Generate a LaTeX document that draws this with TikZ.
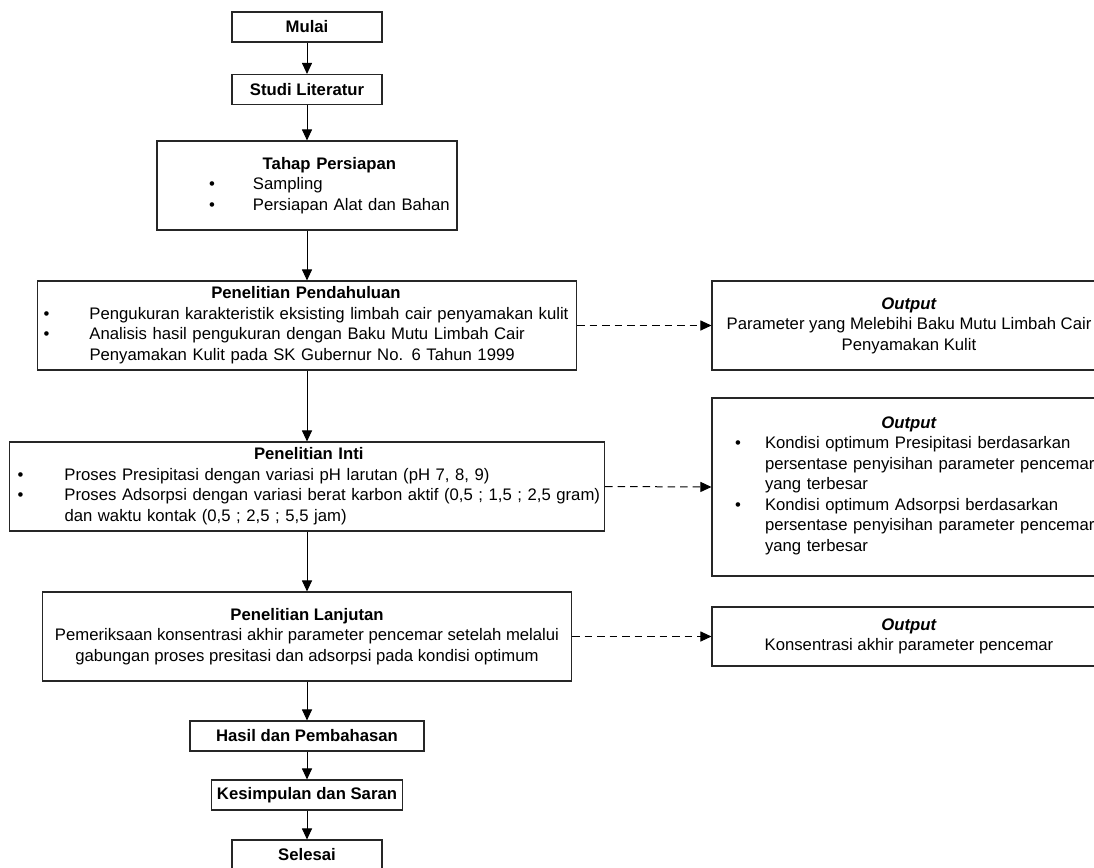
\documentclass[tikz,border=0pt]{standalone}
\usepackage{fontspec}
\setmainfont{Liberation Sans}
\usetikzlibrary{arrows.meta}
\begin{document}
\begin{tikzpicture}[x=1pt, y=-1pt,
    kotak/.style={draw=black!85, line width=1.1pt, rectangle, inner sep=0pt,
      minimum height=30pt, font=\fontsize{16.7}{20.5}\selectfont},
    isi/.style={kotak, align=left},
    panah/.style={-{Triangle[length=11pt,width=10pt]}, line width=1pt},
    putus/.style={panah, dash pattern=on 7.5pt off 5pt}]
  \useasboundingbox (0,0) rectangle (1094,867);

  \node[kotak, minimum width=150pt] (mulai) at (307,27) {\textbf{Mulai}};
  \node[kotak, minimum width=150pt] (studi) at (307,89.5) {\textbf{Studi Literatur}};
  \node[isi, text width=300pt, minimum height=89pt] (persiapan) at (307,185.5)
    {\hspace*{52pt}\begin{tabular}{@{}p{44pt}@{}l@{}}
      \multicolumn{2}{c}{\textbf{Tahap Persiapan}}\\
      \textbullet & Sampling\\
      \textbullet & Persiapan Alat dan Bahan
    \end{tabular}};
  \node[isi, text width=539pt, minimum height=89pt] (pendahuluan) at (307,325.5)
    {\hspace*{6pt}\begin{tabular}{@{}p{46pt}@{}l@{}}
      \multicolumn{2}{c}{\textbf{Penelitian Pendahuluan}}\\
      \textbullet & Pengukuran karakteristik eksisting limbah cair penyamakan kulit\\
      \textbullet & Analisis hasil pengukuran dengan Baku Mutu Limbah Cair\\
      & Penyamakan Kulit pada SK Gubernur No. 6 Tahun 1999
    \end{tabular}};
  \node[isi, text width=595pt, minimum height=89pt] (inti) at (307,486.5)
    {\hspace*{8pt}\begin{tabular}{@{}p{47pt}@{}l@{}}
      \multicolumn{2}{c}{\textbf{Penelitian Inti}}\\
      \textbullet & Proses Presipitasi dengan variasi pH larutan (pH 7, 8, 9)\\
      \textbullet & Proses Adsorpsi dengan variasi berat karbon aktif (0,5 ; 1,5 ; 2,5 gram)\\
      & dan waktu kontak (0,5 ; 2,5 ; 5,5 jam)
    \end{tabular}};
  \node[kotak, align=center, minimum width=529pt, minimum height=89pt] (lanjutan) at (307,636.5)
    {\textbf{Penelitian Lanjutan}\\
     Pemeriksaan konsentrasi akhir parameter pencemar setelah melalui\\
     gabungan proses presitasi dan adsorpsi pada kondisi optimum};
  \node[kotak, minimum width=234pt] (hasil) at (307,736) {\textbf{Hasil dan Pembahasan}};
  \node[kotak, minimum width=191pt] (simpulan) at (307,795) {\textbf{Kesimpulan dan Saran}};
  \node[kotak, minimum width=150pt] (selesai) at (307,855) {\textbf{Selesai}};

  \node[kotak, align=center, minimum width=394pt, minimum height=89pt] (output1) at (909,325.5)
    {\textbf{\textit{Output}}\\
     Parameter yang Melebihi Baku Mutu Limbah Cair\\
     Penyamakan Kulit};
  \node[isi, text width=394pt, minimum height=178pt] (output2) at (909,487)
    {{\centering\textbf{\textit{Output}}\par}
     \hspace*{23pt}\begin{tabular}[t]{@{}p{30pt}@{}l@{}}
      \textbullet & Kondisi optimum Presipitasi berdasarkan\\
      & persentase penyisihan parameter pencemar\\
      & yang terbesar\\
      \textbullet & Kondisi optimum Adsorpsi berdasarkan\\
      & persentase penyisihan parameter pencemar\\
      & yang terbesar
    \end{tabular}};
  \node[kotak, align=center, minimum width=394pt, minimum height=59pt] (output3) at (909,636.5)
    {\textbf{\textit{Output}}\\
     Konsentrasi akhir parameter pencemar};

  \draw[panah] (mulai) -- (studi);
  \draw[panah] (studi) -- (persiapan);
  \draw[panah] (persiapan) -- (pendahuluan);
  \draw[panah] (pendahuluan) -- (inti);
  \draw[panah] (inti) -- (lanjutan);
  \draw[panah] (lanjutan) -- (hasil);
  \draw[panah] (hasil) -- (simpulan);
  \draw[panah] (simpulan) -- (selesai);

  \draw[putus] (pendahuluan.east) -- (output1.west);
  \draw[putus] (inti.east) -- (output2.west);
  \draw[putus] (lanjutan.east) -- (output3.west);
\end{tikzpicture}
\end{document}
